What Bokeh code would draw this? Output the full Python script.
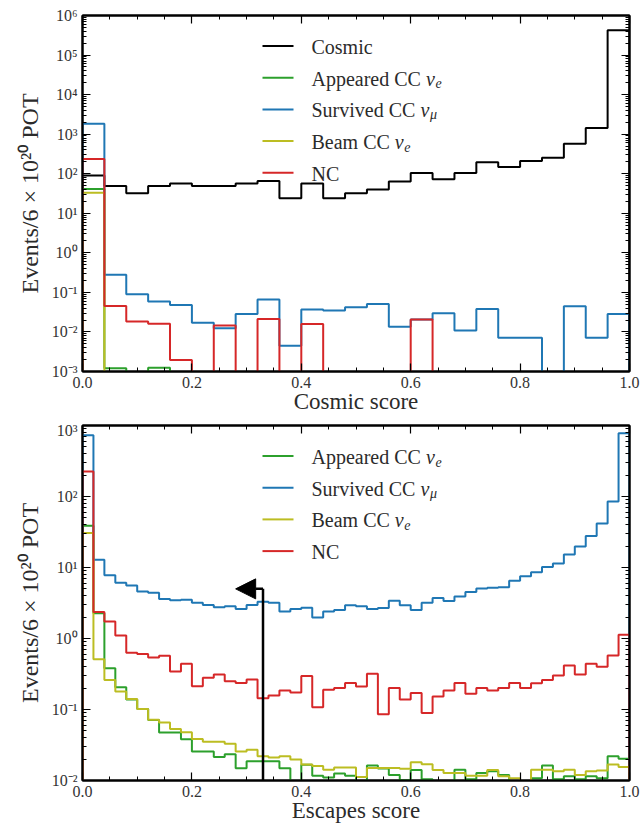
import numpy as np
from bokeh.plotting import figure
from bokeh.layouts import column
from bokeh.models import (LinearAxis, LogAxis, FixedTicker, CustomJSTickFormatter,
                          PrintfTickFormatter, Arrow, NormalHead, Label, Range1d)
from bokeh.embed import file_html
from bokeh.resources import INLINE

# ---------------- data ----------------
# Cosmic score: 25 bins over [0, 1]
cosmic_cosmic = [90, 49, 32, 49, 57, 49, 49, 57, 65, 24, 57, 24, 32, 40, 64,
                 104, 72, 104, 194, 147, 209, 254, 574, 1430, 425000]
cosmic_appeared = [41, 0.0012, 0, 0.00125, 0, 0, 0, 0, 0, 0, 0, 0, 0, 0, 0,
                   0, 0, 0, 0, 0, 0, 0, 0, 0, 0]
cosmic_survived = [1845, 0.28, 0.09, 0.059, 0.048, 0.0172, 0.0124, 0.0286, 0.066,
                   0.0045, 0.0367, 0.0347, 0.042, 0.051, 0.0136, 0.0205, 0.0296,
                   0.0108, 0.038, 0.0071, 0.0071, 0, 0.0447, 0.0071, 0.0286]
cosmic_beam = [33, 0, 0, 0, 0, 0, 0, 0, 0, 0, 0, 0, 0, 0, 0,
               0, 0, 0, 0, 0, 0, 0, 0, 0, 0]
cosmic_nc = [235, 0.0455, 0.0183, 0.016, 0.00196, 0, 0.0145, 0, 0.0213, 0,
             0.0158, 0, 0, 0, 0, 0.0205, 0, 0, 0, 0, 0, 0, 0, 0, 0]

# Escapes score: 50 bins over [0, 1]
escapes_appeared = [38.7, 2.26, 0.38, 0.206, 0.138, 0.102, 0.0714, 0.0473, 0.0473,
                    0.0382, 0.0256, 0.0256, 0.0215, 0.0235, 0.0149, 0.0186, 0.0186,
                    0.0186, 0.0149, 0, 0.0166, 0.0117, 0.011, 0.0125, 0.0117, 0,
                    0.0163, 0.0148, 0.012, 0.0101, 0.014, 0.0104, 0, 0, 0.0142,
                    0.0104, 0.0128, 0.0135, 0.012, 0, 0, 0.0108, 0.0163, 0.0104,
                    0.0115, 0.0104, 0.0115, 0.0108, 0.022, 0.0202]
escapes_survived = [731, 12.9, 7.8, 6.1, 5.6, 4.6, 4.4, 3.6, 3.45, 3.5, 3.2, 2.97,
                    2.75, 2.85, 2.6, 2.97, 3.3, 3.2, 2.4, 2.6, 2.7, 1.97, 2.41, 2.52,
                    2.93, 2.84, 2.6, 2.69, 3.41, 2.93, 2.52, 3.2, 3.72, 3.37, 3.92,
                    4.52, 5.08, 5.2, 5.25, 6.52, 7.5, 8.6, 10.2, 11.4, 15.3, 19.8,
                    27.7, 41.8, 85, 780]
escapes_beam = [30.5, 0.51, 0.261, 0.179, 0.14, 0.102, 0.072, 0.0655, 0.0533, 0.048,
                0.0385, 0.035, 0.035, 0.0328, 0.0256, 0.027, 0.022, 0.021, 0.022,
                0.0197, 0.0168, 0.016, 0.0142, 0.0152, 0.0152, 0.0112, 0.015, 0.015,
                0.015, 0.0146, 0.0181, 0.017, 0.014, 0.0128, 0.0128, 0.0117, 0.0117,
                0.014, 0.0115, 0.0108, 0, 0.0142, 0.0142, 0.0135, 0.0142, 0.012,
                0.0135, 0.0138, 0.0168, 0.0155]
escapes_nc = [225, 2.36, 1.73, 1.1, 0.63, 0.605, 0.54, 0.57, 0.342, 0.44, 0.212,
              0.279, 0.31, 0.25, 0.237, 0.264, 0.144, 0.157, 0.185, 0.173, 0.297,
              0.108, 0.19, 0.201, 0.237, 0.21, 0.32, 0.0857, 0.201, 0.138, 0.171,
              0.0895, 0.152, 0.185, 0.237, 0.166, 0.201, 0.185, 0.201, 0.237, 0.201,
              0.235, 0.261, 0.30, 0.415, 0.31, 0.44, 0.40, 0.574, 1.13]

# Selection cut on the escapes score (events to the left are kept)
escapes_cut = 0.33
cut_arrow_level = 5

x_major = [0.0, 0.2, 0.4, 0.6, 0.8, 1.0]
x_minor_step = 0.05

# ---------------- styling ----------------
FONT = "Liberation Serif"
C_COSMIC = "black"
C_APPEARED = "#2ca02c"
C_SURVIVED = "#1f77b4"
C_BEAM = "#bcbd22"
C_NC = "#d62728"
TEXT_C = "#2b2b2b"
W = 641
BORDER_L, BORDER_R = 82, 12
FRAME_W = W - BORDER_L - BORDER_R
FLOOR = 1e-12

# Times-metric advance widths (per 1000 em) for placing the legend subscripts
TIMES_W = {" ": 250, "A": 722, "B": 667, "C": 667, "N": 722, "S": 556,
           "a": 444, "c": 444, "d": 500, "e": 444, "i": 278, "m": 778,
           "o": 500, "p": 500, "r": 333, "s": 389, "u": 500, "v": 500}


def text_width(s, size):
    return sum(TIMES_W.get(ch, 500) for ch in s) * size / 1000.0


def hist_outline(counts):
    counts = np.asarray(counts, dtype=float)
    edges = np.linspace(0.0, 1.0, len(counts) + 1)
    vals = np.where(counts > 0, counts, FLOOR)
    xs = np.repeat(edges, 2)
    ys = np.concatenate([[FLOOR], np.repeat(vals, 2), [FLOOR]])
    return xs, ys


SUP_JS = r"""
const sup = {"0":"\u2070","1":"\u00b9","2":"\u00b2","3":"\u00b3","4":"\u2074",
             "5":"\u2075","6":"\u2076","7":"\u2077","8":"\u2078","9":"\u2079","-":"\u207b"};
const e = Math.round(Math.log10(tick));
return "10" + String(e).split("").map(c => sup[c]).join("");
"""
BLANK_JS = "return '';"


class Panel:
    def __init__(self, lo, hi, xlabel, height, border_top, border_bottom):
        self.lo, self.hi = lo, hi
        self.frame_h = height - border_top - border_bottom
        p = figure(width=W, height=height, x_range=Range1d(0, 1),
                   y_range=Range1d(10.0 ** lo, 10.0 ** hi),
                   y_axis_type="log", output_backend="svg", toolbar_location=None,
                   min_border_left=BORDER_L, min_border_right=BORDER_R,
                   min_border_top=border_top, min_border_bottom=border_bottom)
        p.grid.visible = False
        p.outline_line_color = "black"
        p.outline_line_width = 2
        self.p = p

        xt = FixedTicker(ticks=x_major,
                         minor_ticks=list(np.round(np.arange(0, 1.0001, x_minor_step), 3)))
        decades = list(range(lo, hi + 1))
        yt = FixedTicker(ticks=[10.0 ** k for k in decades],
                         minor_ticks=[m * 10.0 ** k for k in decades[:-1] for m in range(2, 10)])

        xa = p.xaxis[0]
        xa.ticker = xt
        xa.formatter = PrintfTickFormatter(format="%.1f")
        self.style(xa)
        xa.major_label_standoff = 5
        xa.axis_label = xlabel
        xa.axis_label_standoff = -2

        ya = p.yaxis[0]
        ya.ticker = yt
        ya.formatter = CustomJSTickFormatter(code=SUP_JS)
        self.style(ya)
        ya.major_label_standoff = 5
        ya.axis_label = "Events/6 \u00d7 10\u00b2\u2070 POT"
        ya.axis_label_text_font_size = "24px"
        ya.axis_label_standoff = 6

        top = LinearAxis(ticker=xt, formatter=CustomJSTickFormatter(code=BLANK_JS))
        self.style(top)
        top.major_label_text_font_size = "1px"
        top.major_label_standoff = 0
        p.add_layout(top, "above")

        right = LogAxis(ticker=yt, formatter=CustomJSTickFormatter(code=BLANK_JS))
        self.style(right)
        right.major_label_text_font_size = "1px"
        right.major_label_standoff = 0
        p.add_layout(right, "right")

    @staticmethod
    def style(ax):
        ax.axis_line_color = "black"
        ax.axis_line_width = 2
        ax.major_tick_in = 8
        ax.major_tick_out = 0
        ax.minor_tick_in = 4
        ax.minor_tick_out = 0
        ax.major_tick_line_color = "black"
        ax.minor_tick_line_color = "black"
        ax.major_tick_line_width = 1.2
        ax.minor_tick_line_width = 1
        ax.major_label_text_font = FONT
        ax.major_label_text_font_size = "16px"
        ax.major_label_text_color = "#333333"
        ax.axis_label_text_font = FONT
        ax.axis_label_text_font_size = "23px"
        ax.axis_label_text_font_style = "normal"
        ax.axis_label_text_color = TEXT_C

    # frame pixel offsets (from left / from top) -> data coordinates
    def fx(self, px):
        return px / FRAME_W

    def fy(self, py):
        return 10.0 ** (self.hi - py / self.frame_h * (self.hi - self.lo))

    def hist(self, counts, color):
        xs, ys = hist_outline(counts)
        self.p.line(xs, ys, line_color=color, line_width=2)

    def legend(self, entries):
        size = 20
        line_x0, line_x1, text_x = 180, 211, 229
        first, step = 30.5, 31.7
        for i, (name, sub, color) in enumerate(entries):
            yc = first + i * step
            self.p.line([self.fx(line_x0), self.fx(line_x1)], [self.fy(yc), self.fy(yc)],
                        line_color=color, line_width=2)
            base = yc + 1.0
            self.p.add_layout(Label(x=self.fx(text_x), y=self.fy(base), text=name,
                                    text_font=FONT, text_font_size=f"{size}px",
                                    text_baseline="alphabetic", text_color=TEXT_C))
            if sub:
                nx = text_x + text_width(name, size)
                self.p.add_layout(Label(x=self.fx(nx), y=self.fy(base), text="\u03bd",
                                        text_font=FONT, text_font_style="italic",
                                        text_font_size=f"{size}px",
                                        text_baseline="alphabetic", text_color=TEXT_C))
                self.p.add_layout(Label(x=self.fx(nx + 9.5), y=self.fy(base + 4.5), text=sub,
                                        text_font=FONT, text_font_style="italic",
                                        text_font_size="14px",
                                        text_baseline="alphabetic", text_color=TEXT_C))


# ---------------- top: cosmic score ----------------
top = Panel(-3, 6, "Cosmic score", 421, 15, 50)
top.hist(cosmic_cosmic, C_COSMIC)
top.hist(cosmic_appeared, C_APPEARED)
top.hist(cosmic_survived, C_SURVIVED)
top.hist(cosmic_beam, C_BEAM)
top.hist(cosmic_nc, C_NC)
top.legend([("Cosmic", None, C_COSMIC),
            ("Appeared CC ", "e", C_APPEARED),
            ("Survived CC ", "\u03bc", C_SURVIVED),
            ("Beam CC ", "e", C_BEAM),
            ("NC", None, C_NC)])

# ---------------- bottom: escapes score ----------------
bot = Panel(-2, 3, "Escapes score", 405, 4, 46)
bot.hist(escapes_appeared, C_APPEARED)
bot.hist(escapes_survived, C_SURVIVED)
bot.hist(escapes_beam, C_BEAM)
bot.hist(escapes_nc, C_NC)
bot.legend([("Appeared CC ", "e", C_APPEARED),
            ("Survived CC ", "\u03bc", C_SURVIVED),
            ("Beam CC ", "e", C_BEAM),
            ("NC", None, C_NC)])

# cut line with an arrow pointing to the selected region
bot.p.line([escapes_cut, escapes_cut], [FLOOR, cut_arrow_level],
           line_color="black", line_width=2.5)
bot.p.add_layout(Arrow(x_start=escapes_cut, y_start=cut_arrow_level,
                       x_end=escapes_cut - 0.05, y_end=cut_arrow_level,
                       line_color="black", line_width=2.5,
                       end=NormalHead(size=20, fill_color="black", line_color="black")))

layout = column(top.p, bot.p)
open("out.html", "w").write(file_html(layout, INLINE))
